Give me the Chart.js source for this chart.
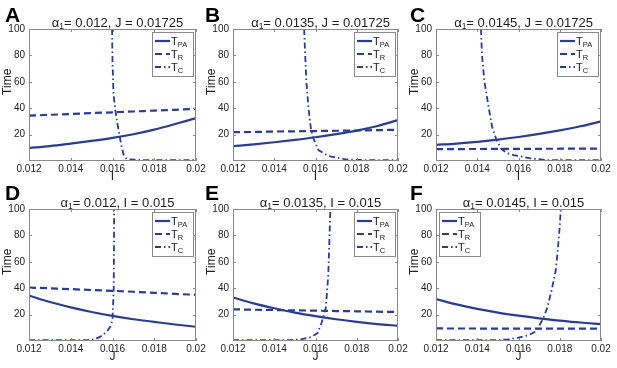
<!DOCTYPE html>
<html><head><meta charset="utf-8">
<script src="https://cdn.jsdelivr.net/npm/chart.js@4"></script>
<style>
html,body{margin:0;padding:0;background:#fff}
body{width:617px;height:368px;overflow:hidden;position:relative;font-family:"Liberation Sans",Arial,sans-serif}
canvas{position:absolute}
.letter{position:absolute;font-weight:bold;font-size:21px;line-height:20px;color:#000}
</style></head>
<body>
<script>
// ---------- data ----------
const xTicks = [0.012, 0.014, 0.016, 0.018, 0.02];
const xTickLabels = ['0.012', '0.014', '0.016', '0.018', '0.02'];
const yTicks = [20, 40, 60, 80, 100];
const yTickLabels = ['20', '40', '60', '80', '100'];
const sweepX = [0.012, 0.013, 0.014, 0.015, 0.016, 0.017, 0.018, 0.019, 0.02];

const panelLetters = ['A', 'B', 'C', 'D', 'E', 'F'];
const alphaLabels = ['0.012', '0.0135', '0.0145', '0.012', '0.0135', '0.0145'];
const fixedLabels = ['J = 0.01725', 'J = 0.01725', 'J = 0.01725', 'I = 0.015', 'I = 0.015', 'I = 0.015'];
const xTitles = ['I', 'I', 'I', 'J', 'J', 'J'];
const seriesNames = [['T', 'PA'], ['T', 'R'], ['T', 'C']];

// Panel A
const aTpa = [9.8, 11.3, 13.2, 15.2, 17.5, 20.3, 23.8, 28, 32.5];
const aTr = [34.3, 35, 35.6, 36.3, 36.9, 37.5, 38.2, 38.8, 39.5];
const aCx = [0.01598, 0.01600, 0.01605, 0.01615, 0.01625, 0.01635, 0.01645, 0.01655, 0.01670, 0.0175, 0.02];
const aCy = [100, 75, 50, 37, 27, 18, 10, 3.5, 1.3, 0.7, 0.6];
// Panel B
const bTpa = [11.2, 12.6, 14.2, 16, 18, 20.3, 23, 26.5, 31];
const bTr = [21.8, 22, 22.3, 22.5, 22.7, 22.9, 23.1, 23.4, 23.6];
const bCx = [0.01545, 0.01550, 0.01556, 0.01566, 0.01579, 0.01590, 0.01614, 0.01663, 0.01744, 0.0185, 0.02];
const bCy = [100, 80, 60, 40, 23, 17, 8.3, 3.8, 1.3, 0.6, 0.6];
// Panel C
const cTpa = [12.2, 13.2, 14.5, 16.2, 18.2, 20.5, 23.2, 26.3, 30];
const cTr = [9, 9.05, 9.1, 9.15, 9.2, 9.25, 9.3, 9.35, 9.4];
const cCx = [0.01418, 0.01423, 0.01435, 0.01456, 0.01472, 0.01493, 0.01517, 0.01545, 0.01577, 0.01658, 0.01739, 0.02];
const cCy = [100, 80, 60, 40, 26, 16, 9, 6, 4.5, 2, 0.7, 0.6];
// Panel D
const dTpa = [34.5, 29.5, 25.5, 22, 19, 16.5, 14.5, 12.5, 10.8];
const dTr = [40.5, 39.9, 39.3, 38.6, 38, 37.3, 36.5, 35.7, 35];
const dCx = [0.012, 0.0148, 0.01516, 0.0155, 0.01572, 0.01590, 0.01600, 0.01606, 0.01608];
const dCy = [0.6, 0.7, 1.3, 4, 7, 11, 16, 40, 100];
// Panel E
const eTpa = [33, 28.5, 24.8, 21.5, 18.8, 16.5, 14.5, 12.8, 11.5];
const eTr = [24, 23.7, 23.5, 23.2, 23, 22.7, 22.5, 22.2, 22];
const eCx = [0.012, 0.0148, 0.0153, 0.0158, 0.0161, 0.0163, 0.0165, 0.01662, 0.01668, 0.01672];
const eCy = [0.6, 0.7, 1.2, 3, 6, 14, 25, 50, 80, 100];
// Panel F
const fTpa = [31.8, 27.7, 24.3, 21.5, 19.2, 17.2, 15.5, 14, 12.8];
const fTr = [9.5, 9.47, 9.45, 9.42, 9.4, 9.37, 9.35, 9.32, 9.3];
const fCx = [0.012, 0.015, 0.0155, 0.016, 0.0165, 0.0168, 0.017, 0.0172, 0.0174, 0.0176, 0.0178, 0.0179, 0.018, 0.01805];
const fCy = [0.6, 0.6, 1.3, 2.5, 4.5, 7, 11.5, 17, 25.5, 38, 53, 68, 87, 100];

const seriesTpa = [aTpa, bTpa, cTpa, dTpa, eTpa, fTpa];
const seriesTr = [aTr, bTr, cTr, dTr, eTr, fTr];
const seriesCx = [aCx, bCx, cCx, dCx, eCx, fCx];
const seriesCy = [aCy, bCy, cCy, dCy, eCy, fCy];

// ---------- layout / style ----------
const FONT = '"Liberation Sans", Arial, sans-serif';
const BLUE = '#2a3c94';
const FRAME = '#8a8a8a';
const TEXT = '#222';
// plot boxes [left, top, right, bottom]
const boxes = [[29, 29, 196, 161], [233, 29, 398, 161], [436, 29, 601, 161],
               [29, 209, 196, 341], [233, 209, 398, 341], [436, 209, 601, 341]];
const letterPos = [[5, 5], [205, 5], [410, 5], [5, 183], [205, 183], [410, 183]];
const legendLeft = [false, false, false, false, false, true];
const AXW = 29, TOPPAD = 29, RIGHTPAD = 14, XAXH = 23;

const dashes = [[], [7, 4], [6, 3, 1.5, 3]];
const widths = [2.2, 2.2, 1.8];

function pts(xs, ys) { return xs.map((x, i) => ({x: x, y: ys[i]})); }

const panelPlugin = {
  id: 'panelDeco',
  afterDraw(chart, args, opts) {
    const ctx = chart.ctx, a = chart.chartArea;
    const xs = chart.scales.x, ys = chart.scales.y;
    ctx.save();
    // frame
    ctx.strokeStyle = FRAME; ctx.lineWidth = 1; ctx.setLineDash([]);
    ctx.strokeRect(a.left + 0.5, a.top + 0.5, a.right - a.left - 1, a.bottom - a.top - 1);
    // inward ticks
    ctx.beginPath();
    xTicks.forEach(v => {
      const px = Math.round(xs.getPixelForValue(v)) + 0.5;
      ctx.moveTo(px, a.bottom); ctx.lineTo(px, a.bottom - 3);
      ctx.moveTo(px, a.top); ctx.lineTo(px, a.top + 3);
    });
    yTicks.forEach(v => {
      const py = Math.round(ys.getPixelForValue(v)) + 0.5;
      ctx.moveTo(a.left, py); ctx.lineTo(a.left + 3, py);
      ctx.moveTo(a.right, py); ctx.lineTo(a.right - 3, py);
    });
    ctx.stroke();
    // y title
    ctx.fillStyle = TEXT;
    ctx.font = '12px ' + FONT;
    ctx.textAlign = 'center'; ctx.textBaseline = 'middle';
    ctx.save();
    ctx.translate(a.left - 21, a.top + (a.bottom - a.top) * 0.4);
    ctx.rotate(-Math.PI / 2);
    ctx.fillText('Time', 0, 0);
    ctx.restore();
    // subplot title
    const i = opts.idx;
    const big = '13px ' + FONT, small = '8.5px ' + FONT;
    const rest = '= ' + alphaLabels[i] + ', ' + fixedLabels[i];
    ctx.font = big; const w1 = ctx.measureText('α').width; const w3 = ctx.measureText(rest).width;
    ctx.font = small; const w2 = ctx.measureText('1').width;
    let tx = (a.left + a.right) / 2 + 5 - (w1 + w2 + w3) / 2;
    const ty = a.top - 2;
    ctx.textAlign = 'left'; ctx.textBaseline = 'alphabetic';
    ctx.font = big; ctx.fillText('α', tx, ty); tx += w1;
    ctx.font = small; ctx.fillText('1', tx, ty + 2); tx += w2;
    ctx.font = big; ctx.fillText(rest, tx, ty);
    // legend
    const bw = 41, bh = 44;
    const bx = legendLeft[i] ? a.left + 3 : a.right - 3 - bw;
    const by = a.top + 3;
    ctx.fillStyle = '#fff'; ctx.fillRect(bx, by, bw, bh);
    ctx.strokeStyle = FRAME; ctx.lineWidth = 1;
    ctx.strokeRect(bx + 0.5, by + 0.5, bw, bh);
    seriesNames.forEach((nm, k) => {
      const ly = by + 9 + k * 13;
      ctx.strokeStyle = BLUE; ctx.lineWidth = widths[k]; ctx.setLineDash(dashes[k]);
      ctx.beginPath(); ctx.moveTo(bx + 3, ly); ctx.lineTo(bx + 18, ly); ctx.stroke();
      ctx.setLineDash([]);
      ctx.fillStyle = TEXT;
      ctx.font = '11px ' + FONT;
      ctx.fillText(nm[0], bx + 19, ly + 4);
      const tw = ctx.measureText(nm[0]).width;
      ctx.font = '7.5px ' + FONT;
      ctx.fillText(nm[1], bx + 19 + tw, ly + 6);
    });
    ctx.restore();
  }
};

boxes.forEach((b, i) => {
  const [L, T, R, B] = b;
  const cv = document.createElement('canvas');
  const W = (R - L) + AXW + RIGHTPAD, H = (B - T) + TOPPAD + XAXH;
  cv.width = W; cv.height = H;
  cv.style.left = (L - AXW) + 'px'; cv.style.top = (T - TOPPAD) + 'px';
  cv.style.width = W + 'px'; cv.style.height = H + 'px';
  document.body.appendChild(cv);

  const lt = document.createElement('div');
  lt.className = 'letter';
  lt.textContent = panelLetters[i];
  lt.style.left = letterPos[i][0] + 'px'; lt.style.top = letterPos[i][1] + 'px';
  document.body.appendChild(lt);

  new Chart(cv, {
    type: 'line',
    data: {
      datasets: [
        {label: 'TPA', data: pts(sweepX, seriesTpa[i]), borderColor: BLUE, borderWidth: widths[0], borderDash: dashes[0], pointRadius: 0, cubicInterpolationMode: 'monotone', fill: false},
        {label: 'TR', data: pts(sweepX, seriesTr[i]), borderColor: BLUE, borderWidth: widths[1], borderDash: dashes[1], pointRadius: 0, cubicInterpolationMode: 'monotone', fill: false},
        {label: 'TC', data: pts(seriesCx[i], seriesCy[i]), borderColor: BLUE, borderWidth: widths[2], borderDash: dashes[2], pointRadius: 0, tension: 0, fill: false}
      ]
    },
    options: {
      responsive: false, animation: false, devicePixelRatio: 1,
      layout: {padding: {top: TOPPAD, left: 0, right: RIGHTPAD, bottom: 0}},
      plugins: {legend: {display: false}, tooltip: {enabled: false}, title: {display: false}, panelDeco: {idx: i}},
      scales: {
        x: {
          type: 'linear', min: 0.012, max: 0.02,
          afterBuildTicks: s => { s.ticks = xTicks.map(v => ({value: v})); },
          ticks: {callback: (v, k) => xTickLabels[k], font: {size: 10, family: FONT}, color: TEXT, padding: 2, maxRotation: 0, autoSkip: false},
          grid: {display: false, drawTicks: false}, border: {display: false},
          title: {display: true, text: xTitles[i], font: {size: 12, family: FONT}, color: TEXT, padding: 0},
          afterFit: s => { s.height = XAXH; }
        },
        y: {
          min: 0, max: 100,
          afterBuildTicks: s => { s.ticks = yTicks.map(v => ({value: v})); },
          ticks: {callback: (v, k) => yTickLabels[k], font: {size: 10, family: FONT}, color: TEXT, padding: 4},
          grid: {display: false, drawTicks: false}, border: {display: false},
          afterFit: s => { s.width = AXW; }
        }
      }
    },
    plugins: [panelPlugin]
  });
});
</script>
</body></html>
